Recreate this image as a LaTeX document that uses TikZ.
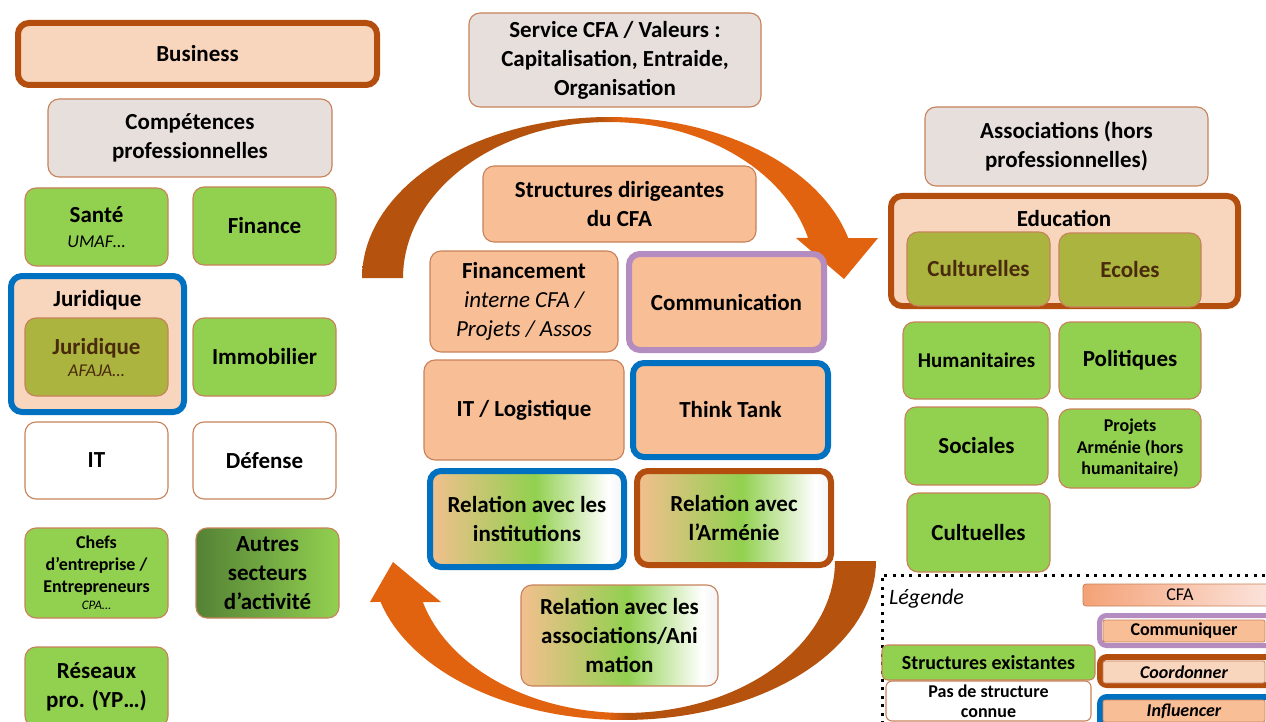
\documentclass[tikz,border=0pt]{standalone}
\usepackage{fontspec}
\setmainfont{Carlito}
\definecolor{peach}{HTML}{F8BE96}
\definecolor{peachlight}{HTML}{F8D5BD}
\definecolor{thinb}{HTML}{C8825A}
\definecolor{greyf}{HTML}{E7DFDC}
\definecolor{greenf}{HTML}{92D050}
\definecolor{darkgreen}{HTML}{548235}
\definecolor{olive}{HTML}{AAB43F}
\definecolor{olivetext}{HTML}{4A2A0C}
\definecolor{brownb}{HTML}{B34E0F}
\definecolor{blueb}{HTML}{0070C0}
\definecolor{purpleb}{HTML}{B48CC0}
\definecolor{arrdark}{HTML}{B5520D}
\definecolor{arrorange}{HTML}{E2630F}
\definecolor{relpeach}{HTML}{F3BF8E}
\definecolor{relwhite}{HTML}{F3F3F3}
\definecolor{cfaleft}{HTML}{F4A277}
\definecolor{cfaright}{HTML}{FCE6E0}
\pgfdeclarehorizontalshading{relgrad}{100bp}{color(0bp)=(relpeach); color(25bp)=(relpeach); color(52bp)=(greenf); color(71bp)=(white); color(75bp)=(relwhite); color(100bp)=(relwhite)}
\pgfdeclarehorizontalshading{topsplit}{100bp}{color(0bp)=(arrdark); color(48bp)=(arrdark); color(50bp)=(arrorange); color(100bp)=(arrorange)}
\pgfdeclarehorizontalshading{botsplit}{100bp}{color(0bp)=(arrorange); color(48.5bp)=(arrorange); color(50.5bp)=(arrdark); color(100bp)=(arrdark)}
\tikzset{
  boxbase/.style={rounded corners=11pt, align=center, inner sep=1pt, text=black, font=\bfseries\fontsize{23}{29}\selectfont},
  sz/.style 2 args={minimum width=#1pt, minimum height=#2pt},
  thinbox/.style={boxbase, draw=thinb, line width=1.1pt},
  greenbox/.style={thinbox, fill=greenf},
  whitebox/.style={thinbox, fill=white},
  greybox/.style={thinbox, fill=greyf},
  peachbox/.style={thinbox, fill=peach},
  olivebox/.style={thinbox, fill=olive, text=olivetext},
  brownframe/.style={boxbase, draw=brownb, line width=6pt},
  blueframe/.style={boxbase, draw=blueb, line width=6pt},
  purpleframe/.style={boxbase, draw=purpleb, line width=6pt},
  relbox/.style={shading=relgrad},
  titletext/.style={font=\bfseries\fontsize{23}{29}\selectfont, inner sep=0pt},
  legdots/.style={line width=3pt, dash pattern=on 3pt off 5.4pt, black},
  legframe/.style={rounded corners=7pt, fill=white, line width=5pt},
  leginner/.style={draw=thinb, line width=0.8pt, rounded corners=2pt, minimum width=162pt, minimum height=22pt, inner sep=0pt},
}
\begin{document}
\begin{tikzpicture}[x=1pt,y=-1pt]
\useasboundingbox (0,0) rectangle (1266,722);
\clip (0,0) rectangle (1266,722);
\fill[white] (0,0) rectangle (1266,722);

% curved arrows
\shade[shading=topsplit] (362,278) -- plot[domain=180:14.37,samples=70] ({609+247*cos(\x)},{278-161*sin(\x)}) -- (878,238) -- (844,279) -- (796,238) -- plot[domain=14.86:180,samples=70] ({609+206*cos(\x)},{278-156*sin(\x)}) -- cycle;
\shade[shading=botsplit] (876,561) -- plot[domain=0:165.06,samples=70] ({624+252*cos(\x)},{561+159*sin(\x)}) -- (370,602) -- (393,562) -- (441,602) -- plot[domain=164.35:0,samples=70] ({625+210*cos(\x)},{561+152*sin(\x)}) -- cycle;

% left column
\node[brownframe, fill=peachlight, sz={359}{62}] (business) at (197.5,54) {Business};
\node[greybox, sz={284}{78}] (comp) at (190,138) {Compétences\\professionnelles};
\node[greenbox, sz={143}{78}] (sante) at (96.5,227) {Santé\\[-4pt]{\mdseries\itshape\fontsize{18}{20}\selectfont UMAF…}};
\node[greenbox, sz={143}{78}] (finance) at (264.5,226) {Finance};
\node[blueframe, fill=peachlight, sz={173}{136}] (jurO) at (97.5,344) {};
\node[titletext] (jurT) at (97.5,300) {Juridique};
\node[olivebox, sz={143}{78}] (jurI) at (96.5,357) {Juridique\\[-7pt]{\mdseries\itshape\fontsize{18}{20}\selectfont AFAJA…}};
\node[greenbox, sz={143}{78}] (immo) at (264.5,357) {Immobilier};
\node[whitebox, sz={143}{77}] (itbox) at (96.5,460.5) {IT};
\node[whitebox, sz={143}{77}] (defense) at (264.5,460.5) {Défense};
\node[greenbox, sz={143}{90}, font=\bfseries\fontsize{18}{22}\selectfont] (chefs) at (96.5,573) {Chefs\\d’entreprise /\\Entrepreneurs\\[-5pt]{\mdseries\itshape\fontsize{13}{15}\selectfont CPA…}};
\node[thinbox, left color=darkgreen, right color=greenf, sz={143}{90}] (autres) at (267.5,573) {Autres\\secteurs\\d’activité};
\node[greenbox, sz={143}{80}] (reseaux) at (96.5,687) {Réseaux\\pro. (YP…)};

% centre
\node[greybox, sz={292}{94}] (service) at (615,60) {Service CFA / Valeurs :\\Capitalisation, Entraide,\\Organisation};
\node[peachbox, sz={273}{76}] (struct) at (619.5,204) {Structures dirigeantes\\du CFA};
\node[peachbox, sz={188}{101}] (finan) at (524,301.5) {Financement\\{\mdseries\itshape interne CFA /}\\{\mdseries\itshape Projets / Assos}};
\node[purpleframe, fill=peach, sz={195}{96}] (comm) at (726.5,302) {Communication};
\node[peachbox, sz={200}{100}] (itlog) at (524,410) {IT / Logistique};
\node[blueframe, fill=peach, sz={195}{94}] (think) at (730.5,410) {Think Tank};
\node[blueframe, relbox, sz={194}{96}] (relinst) at (527,519) {Relation avec les\\institutions};
\node[brownframe, relbox, sz={194}{94}] (relarm) at (734,518) {Relation avec\\l’Arménie};
\node[thinbox, relbox, sz={197}{101}] (relasso) at (619.5,635.5) {Relation avec les\\associations/Ani\\mation};

% right column
\node[greybox, sz={283}{79}] (assoc) at (1066.5,146.5) {Associations (hors\\professionnelles)};
\node[brownframe, fill=peachlight, sz={347}{110}] (educ) at (1064.5,251) {};
\node[titletext] (educT) at (1064,218) {Education};
\node[olivebox, sz={143}{74}] (cultu) at (978.5,269) {Culturelles};
\node[olivebox, sz={142}{74}] (ecoles) at (1130,270) {Ecoles};
\node[greenbox, sz={147}{77}, font=\bfseries\fontsize{21}{25}\selectfont] (humani) at (976.5,360.5) {Humanitaires};
\node[greenbox, sz={142}{77}] (polit) at (1130,360.5) {Politiques};
\node[greenbox, sz={143}{78}] (soc) at (976.5,446) {Sociales};
\node[greenbox, sz={142}{79}, font=\bfseries\fontsize{18}{21.5}\selectfont] (proj) at (1130,448.5) {Projets\\Arménie (hors\\humanitaire)};
\node[greenbox, sz={143}{79}] (cultuel) at (978.5,532.5) {Cultuelles};

% legend
\coordinate (lgA) at (882,724);
\coordinate (lgB) at (882,575);
\coordinate (lgC) at (1270,575);
\draw[legdots] (lgA) -- (lgB) -- (lgC);
\node[anchor=west, inner sep=0pt, font=\itshape\fontsize{22}{26}\selectfont] (legende) at (889,599) {Légende};
\node[draw=thinb, line width=0.8pt, rounded corners=3pt, left color=cfaleft, right color=cfaright, minimum width=194pt, minimum height=22pt, inner sep=0pt, font=\fontsize{18}{20}\selectfont] (cfa) at (1180,595) {CFA};
\node[legframe, draw=purpleb, minimum width=195pt, minimum height=30pt] (commF) at (1197,630.5) {};
\node[leginner, fill=peach, font=\bfseries\fontsize{18}{20}\selectfont] (commI) at (1184,631) {Communiquer};
\node[legframe, draw=brownb, line width=6pt, minimum width=194pt, minimum height=28pt] (coordF) at (1197,671) {};
\node[leginner, fill=peachlight, font=\bfseries\itshape\fontsize{18}{20}\selectfont] (coordI) at (1184,672) {Coordonner};
\node[legframe, draw=blueb, line width=6pt, minimum width=194pt, minimum height=40pt] (inflF) at (1197,717) {};
\node[leginner, fill=peach, font=\bfseries\itshape\fontsize{18}{20}\selectfont] (inflI) at (1184,711) {Influencer};
\node[greenbox, rounded corners=6pt, sz={213}{35}, font=\bfseries\fontsize{20}{24}\selectfont] (exist) at (988.5,662.5) {Structures existantes};
\node[whitebox, rounded corners=6pt, sz={205}{40}, font=\bfseries\fontsize{18}{20}\selectfont] (pasde) at (988.5,701) {Pas de structure\\connue};
\end{tikzpicture}
\end{document}
